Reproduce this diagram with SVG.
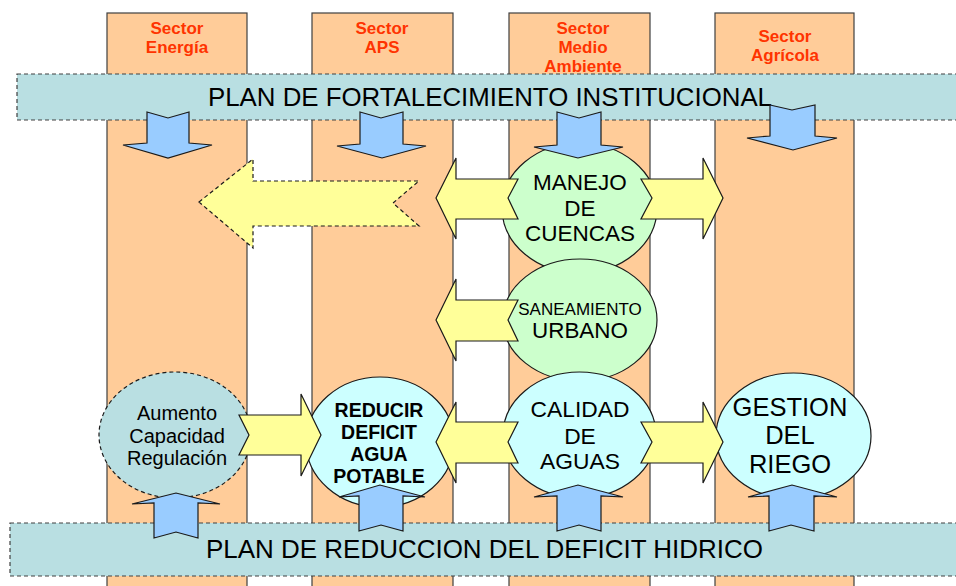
<svg xmlns="http://www.w3.org/2000/svg" width="956" height="586" viewBox="0 0 956 586">
<style>
.col{fill:#FFCC99;stroke:#404040;stroke-width:1.2}
.band{fill:#B9DFE2;stroke:#404040;stroke-width:1.2;stroke-dasharray:4 3}
.sec{font-family:"Liberation Sans",Arial,sans-serif;font-weight:bold;font-size:17px;fill:#FF3300;text-anchor:middle}
.title{font-family:"Liberation Sans",Arial,sans-serif;font-size:25px;fill:#000}
.blue{fill:#99CCFF;stroke:#1a1a1a;stroke-width:1.2;stroke-linejoin:miter}
.yel{fill:#FFFF99;stroke:#1a1a1a;stroke-width:1.2}
.yeld{fill:#FFFF99;stroke:#1a1a1a;stroke-width:1.2;stroke-dasharray:4 3}
.green{fill:#CCFFCC;stroke:#1a1a1a;stroke-width:1.2}
.cyan{fill:#CCFFFF;stroke:#1a1a1a;stroke-width:1.2}
.teal{fill:#B9DFE2;stroke:#1a1a1a;stroke-width:1.2;stroke-dasharray:4 3}
.t{font-family:"Liberation Sans",Arial,sans-serif;fill:#000;text-anchor:middle}
</style>
<rect width="956" height="586" fill="#FFFFFF"/>
<g id="sector-energia">
<rect class="col" x="107" y="13" width="140" height="580"/>
<text class="sec" x="177" y="34">Sector</text>
<text class="sec" x="177" y="53">Energía</text>
</g>
<g id="sector-aps">
<rect class="col" x="312" y="13" width="141" height="580"/>
<text class="sec" x="382" y="34">Sector</text>
<text class="sec" x="382" y="53">APS</text>
</g>
<g id="sector-medio-ambiente">
<rect class="col" x="509" y="13" width="141" height="580"/>
<text class="sec" x="583" y="34">Sector</text>
<text class="sec" x="583" y="53">Medio</text>
<text class="sec" x="583" y="72">Ambiente</text>
</g>
<g id="sector-agricola">
<rect class="col" x="715" y="13" width="139" height="580"/>
<text class="sec" x="785" y="42">Sector</text>
<text class="sec" x="785" y="61">Agrícola</text>
</g>
<g id="plan-fortalecimiento">
<rect class="band" x="17" y="74" width="945" height="46"/>
<text class="title" x="208" y="106" textLength="564" lengthAdjust="spacingAndGlyphs">PLAN DE FORTALECIMIENTO INSTITUCIONAL</text>
</g>
<g id="plan-reduccion">
<rect class="band" x="10" y="523" width="952" height="53"/>
<text class="title" x="206" y="558" textLength="557" lengthAdjust="spacingAndGlyphs">PLAN DE REDUCCION DEL DEFICIT HIDRICO</text>
</g>
<g id="manejo-cuencas">
<ellipse class="green" cx="579.5" cy="208" rx="77.5" ry="65"/>
<text class="t" x="580" y="190" font-size="22.5">MANEJO</text>
<text class="t" x="580" y="216" font-size="22.5">DE</text>
<text class="t" x="580" y="241" font-size="22.5">CUENCAS</text>
</g>
<g id="saneamiento-urbano">
<ellipse class="green" cx="580" cy="320" rx="77" ry="61"/>
<text class="t" x="580" y="315" font-size="17">SANEAMIENTO</text>
<text class="t" x="580" y="338" font-size="22.4">URBANO</text>
</g>
<g id="calidad-aguas">
<ellipse class="cyan" cx="579.5" cy="435" rx="76.5" ry="63"/>
<text class="t" x="580" y="417" font-size="22.8">CALIDAD</text>
<text class="t" x="580" y="444" font-size="22.8">DE</text>
<text class="t" x="580" y="469" font-size="22.8">AGUAS</text>
</g>
<g id="gestion-riego">
<ellipse class="cyan" cx="793.5" cy="436" rx="77.5" ry="63"/>
<text class="t" x="790" y="416" font-size="25.5">GESTION</text>
<text class="t" x="790" y="444" font-size="25.5">DEL</text>
<text class="t" x="790" y="473" font-size="25.5">RIEGO</text>
</g>
<g id="reducir-deficit">
<ellipse class="cyan" cx="380" cy="442" rx="74" ry="65"/>
<text class="t" x="379" y="417" font-size="19.5" font-weight="bold">REDUCIR</text>
<text class="t" x="379" y="439" font-size="19.5" font-weight="bold">DEFICIT</text>
<text class="t" x="379" y="461" font-size="19.5" font-weight="bold">AGUA</text>
<text class="t" x="379" y="483" font-size="19.5" font-weight="bold">POTABLE</text>
</g>
<g id="aumento-capacidad">
<ellipse class="teal" cx="175" cy="435" rx="76" ry="63"/>
<text class="t" x="177" y="420" font-size="20">Aumento</text>
<text class="t" x="177" y="443" font-size="20">Capacidad</text>
<text class="t" x="177" y="465" font-size="20">Regulación</text>
</g>
<g id="connectors">
<polygon class="yeld" points="199,202 253,159 253,181 419,181 393,203 419,226 253,226 253,248"/>
<polygon class="yel" points="436,198 456,158 456,179 518,179 508,198 518,219 456,219 456,239"/>
<polygon class="yel" points="723,198 703,158 703,179 641,179 652,198 641,219 703,219 703,239"/>
<polygon class="yel" points="436,320 456,279 456,300 518,300 508,320 518,341 456,341 456,361"/>
<polygon class="yel" points="436,442 456,402 456,422 518,422 508,442 518,463 456,463 456,483"/>
<polygon class="yel" points="723,442 703,402 703,422 641,422 652,442 641,463 703,463 703,483"/>
<polygon class="yel" points="321,435 301,394 301,415 239,415 249,435 239,455 301,455 301,476"/>
<polygon class="blue" points="147,112 168,118 189,112 189,143 212,145 168,158 123,145 147,143"/>
<polygon class="blue" points="360,112 381,118 403,112 403,144 426,146 382,158 337,146 360,144"/>
<polygon class="blue" points="557,112 579,118 601,112 601,145 623,147 578,158 534,147 557,145"/>
<polygon class="blue" points="770,105 792,110 815,105 815,136 837,138 793,150 747,138 770,136"/>
<polygon class="blue" points="154,538 176,532 198,538 198,503 220,504 176,493 132,504 154,503"/>
<polygon class="blue" points="359,531 381,525 403,531 403,496 425,497 380,485 339,497 359,496"/>
<polygon class="blue" points="557,531 579,525 601,531 601,496 623,497 578,485 534,497 557,496"/>
<polygon class="blue" points="769,531 791,525 814,531 814,496 837,497 792,485 748,497 769,496"/>
</g>
</svg>
